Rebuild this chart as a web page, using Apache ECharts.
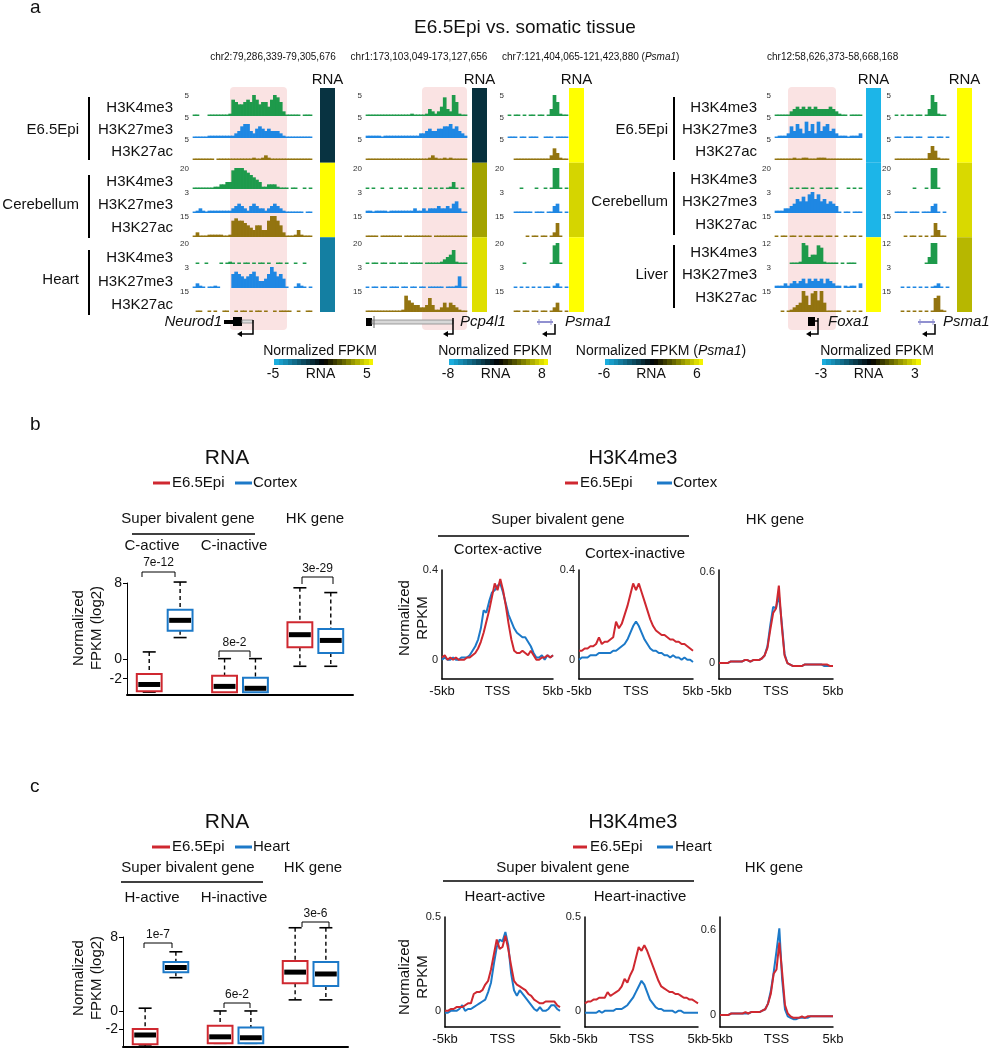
<!DOCTYPE html>
<html><head><meta charset="utf-8">
<script src="https://cdn.jsdelivr.net/npm/echarts@6/dist/echarts.min.js"></script>
<style>html,body{margin:0;padding:0;background:#fff}#c{width:990px;height:1050px}</style>
</head><body><div id="c"></div>
<script>
// ---------------- DATA ----------------
const marks = ['H3K4me3','H3K27me3','H3K27ac'];
const leftTissues = ['E6.5Epi','Cerebellum','Heart'];
const rightTissues = ['E6.5Epi','Cerebellum','Liver'];
const leftScales = ['5','5','5','20','3','15','20','3','15'];
const rightScales = ['5','5','5','20','3','15','12','3','15'];
const coordLabels = ['chr2:79,286,339-79,305,676','chr1:173,103,049-173,127,656','chr7:121,404,065-121,423,880','chr12:58,626,373-58,668,168'];
const geneNames = ['Neurod1','Pcp4l1','Psma1','Foxa1','Psma1'];

// signal tracks: '.' = no data, digits = signal level 0-9 (relative to track scale)
const trkNeurod1 = [
 "00...0000000176556769756647986200000.000",
 "0000011111111123566324543433321000000000",
 "0000000.00000000000010012100000000000000",
 "00000001122338999876543112221000.00..0.0",
 "0121011111111234321343221234321000000.00",
 "0200011111001787765435533799752000131000",
 ".0..0....0.010.0.00.0.00.0..00.0..0..0..",
 "0210.0010....6765456753346975640..0210.0",
 ".00..0.0..00..0.00.0.00.0..0.0000..0..00"];
const trkPcp4l1 = [
 "0000000000000001000013212483296100",
 "1111101111111111112234334455645321",
 "0000000000000000000001210010100000",
 "0.0..0..0..0.0..0.0..0.0.0.0130.0.",
 "1101111011111111211212223223245200",
 "0000.0000000.000000000.00000000000",
 "0.00.00.00.000.0000.00000123461000",
 "0.00.00.000.00.00.00.00000.0001500",
 "0000000000001754332236311242432100"];
const trkPsma1L = [
 "0.00.0.00.00.0396100",
 "000.00.000..000.0000",
 "..000000000000253100",
 "....0....0..0.0990.0",
 "..000000.000.00340.0",
 "......0.00.00.0260..",
 ".....0........0890..",
 "..0.0.0.0.0.00.120.0",
 "..00.00.00.00.0240.0"];
const trkFoxa1 = [
 "000002343434343333432100.0000",
 "01112536427362735634211101112",
 "00000010011000111000000000000",
 ".....0.0.00.0..0.00.0...0.0.0",
 "1112234657589685645430.00.000",
 "0.00.00.0.00.000.00.0..0.00.0",
 ".....0001983448710000.0.000..",
 "1112123234243434243211.1011.2",
 "..0.012349738959400000..0.0.0"];
const trkPsma1R = [
 "0.0.00.00.0396100.",
 "00.000.00..00.00.0",
 "000000000003641000",
 "......0...0.990...",
 "0000.000.000340.0.",
 "...0.00.0.0.06300.",
 "..........0399....",
 "..0.0.0.0.0.0120.0",
 "..0.0.0.0.0.06710."];

// RNA normalized FPKM per tissue (rows: E6.5Epi, Cerebellum, Heart/Liver)
const rnaNeurod1 = [-1.4, 5, -3.5];
const rnaPcp4l1 = [-2.1, 5.1, 7];
const rnaPsma1L = [6, 5, 6];
const rnaFoxa1 = [-3, -3, 3];
const rnaPsma1R = [6, 5.1, 4.3];
const colorbarRanges = [5, 8, 6, 3];

// Panel b/c box plots: [min, q1, median, q3, max]
const bGroups = ['C-active','C-inactive','HK gene'];
const bEpi    = [[-3.4,-3.3,-2.6,-1.5,0.8],[-3.4,-3.4,-2.8,-1.7,0.1],[-0.7,1.3,2.6,3.9,7.5]];
const bCortex = [[2.3,3.0,4.1,5.2,8.1],[-3.4,-3.4,-3.0,-1.9,0.1],[-0.7,0.7,2.0,3.2,7.0]];
const bPvals = ['7e-12','8e-2','3e-29'];
const cGroups = ['H-active','H-inactive','HK gene'];
const cEpi   = [[-3.8,-3.6,-2.6,-1.95,0.3],[-3.5,-3.5,-2.8,-1.6,0.0],[1.2,3.0,4.2,5.4,9.0]];
const cHeart = [[3.6,4.2,4.7,5.3,6.4],[-3.5,-3.5,-2.9,-1.8,0.0],[1.2,2.7,4.0,5.3,9.0]];
const cPvals = ['1e-7','6e-2','3e-6'];

// H3K4me3 profiles, -5kb..5kb in 0.25kb bins
const PROFILE_START = -5, PROFILE_STEP = 0.25;
const bActiveEpi = [0.01,0.02,0.00,0.01,0.00,0.01,0.00,0.00,0.00,0.01,0.01,0.02,0.03,0.05,0.08,0.12,0.17,0.22,0.28,0.34,0.31,0.36,0.31,0.24,0.16,0.09,0.04,0.03,0.03,0.04,0.03,0.02,0.04,0.02,0.00,0.00,0.01,0.01,0.02,0.01,0.02];
const bActiveCortex = [0.00,0.01,0.00,0.00,0.01,0.00,0.00,0.01,0.01,0.01,0.02,0.04,0.06,0.09,0.14,0.22,0.21,0.26,0.30,0.31,0.33,0.34,0.30,0.25,0.20,0.17,0.14,0.12,0.11,0.10,0.10,0.08,0.06,0.03,0.01,0.01,0.02,0.00,0.02,0.01,0.02];
const bInactiveEpi = [0.04,0.04,0.05,0.05,0.06,0.06,0.07,0.10,0.07,0.08,0.08,0.09,0.10,0.17,0.14,0.16,0.20,0.24,0.29,0.34,0.31,0.34,0.30,0.26,0.22,0.18,0.15,0.13,0.12,0.11,0.11,0.10,0.09,0.09,0.08,0.08,0.07,0.07,0.06,0.05,0.04];
const bInactiveCortex = [0.00,0.01,0.01,0.01,0.02,0.02,0.02,0.03,0.03,0.03,0.03,0.03,0.04,0.04,0.05,0.06,0.07,0.09,0.12,0.15,0.17,0.15,0.12,0.09,0.07,0.05,0.04,0.04,0.03,0.03,0.02,0.02,0.01,0.02,0.01,0.01,0.00,0.01,0.00,0.00,-0.01];
const bHkEpi = [0.00,0.00,0.00,0.00,0.01,0.01,0.01,0.01,0.01,0.02,0.02,0.01,0.02,0.02,0.02,0.03,0.05,0.10,0.22,0.33,0.36,0.51,0.25,0.05,0.00,-0.01,-0.02,-0.02,-0.02,-0.02,-0.01,-0.01,-0.01,-0.01,-0.01,-0.01,-0.01,-0.01,-0.01,-0.02,-0.02];
const bHkCortex = [0.00,0.00,0.00,0.00,0.01,0.01,0.01,0.01,0.01,0.02,0.02,0.01,0.02,0.02,0.02,0.03,0.05,0.11,0.25,0.37,0.36,0.45,0.27,0.06,0.00,-0.01,-0.02,-0.02,-0.02,-0.02,-0.01,-0.01,-0.01,-0.01,-0.01,-0.01,-0.01,-0.02,-0.02,-0.02,-0.02];
const cActiveEpi = [0.00,0.00,0.01,0.01,0.02,0.02,0.02,0.03,0.04,0.04,0.09,0.10,0.10,0.11,0.14,0.16,0.22,0.30,0.38,0.33,0.34,0.40,0.33,0.24,0.16,0.14,0.13,0.12,0.11,0.09,0.08,0.06,0.05,0.04,0.04,0.05,0.05,0.05,0.05,0.03,0.02];
const cActiveHeart = [-0.01,-0.01,0.00,0.00,0.00,0.01,0.03,0.00,0.01,0.01,0.02,0.03,0.04,0.05,0.06,0.10,0.15,0.25,0.34,0.38,0.37,0.42,0.35,0.20,0.11,0.08,0.11,0.09,0.07,0.05,0.03,0.01,0.00,0.02,0.00,0.00,0.01,0.03,0.03,0.01,0.00];
const cInactiveEpi = [0.04,0.05,0.05,0.06,0.06,0.07,0.07,0.07,0.10,0.08,0.09,0.10,0.11,0.13,0.17,0.15,0.19,0.22,0.28,0.34,0.32,0.35,0.32,0.28,0.24,0.20,0.16,0.13,0.12,0.11,0.10,0.10,0.09,0.09,0.08,0.07,0.07,0.06,0.06,0.05,0.04];
const cInactiveHeart = [-0.01,-0.01,-0.01,-0.01,-0.01,0.00,-0.01,0.00,0.00,0.00,0.00,0.01,0.01,0.01,0.02,0.03,0.05,0.07,0.10,0.13,0.16,0.14,0.10,0.06,0.04,0.02,0.01,0.01,0.00,0.00,0.00,0.00,-0.01,0.00,0.00,-0.01,-0.01,-0.01,-0.01,-0.01,-0.01];
const cHkEpi = [0.00,0.00,0.00,0.00,0.01,0.01,0.01,0.01,0.01,0.02,0.01,0.02,0.02,0.02,0.02,0.03,0.04,0.08,0.15,0.29,0.32,0.51,0.30,0.07,0.01,-0.01,-0.02,-0.02,-0.02,-0.01,-0.02,-0.01,-0.01,-0.01,-0.01,-0.01,-0.01,-0.01,-0.01,-0.01,-0.01];
const cHkHeart = [0.00,0.00,0.00,0.00,0.01,0.01,0.01,0.01,0.01,0.01,0.01,0.02,0.02,0.02,0.02,0.03,0.04,0.08,0.17,0.30,0.45,0.61,0.25,0.04,-0.01,-0.02,-0.03,-0.03,-0.02,-0.02,-0.02,-0.02,-0.01,-0.01,-0.01,-0.01,-0.01,-0.01,-0.01,-0.01,-0.01];

// ---------------- STYLE / LAYOUT ----------------
const FONT = 'Liberation Sans, Arial, Helvetica, sans-serif';
const GREEN = '#1e9a4b', TBLUE = '#1f87e3', OLIVE = '#937410';
const RED = '#cf2830', BLUE = '#1c79c8';
const trackColors = [GREEN,TBLUE,OLIVE,GREEN,TBLUE,OLIVE,GREEN,TBLUE,OLIVE];
const rowBase = [116,138,160,189,213,237,264,288,312];
const TRACK_H = 21;
const blocks = [
  {trk:trkNeurod1, rna:rnaNeurod1, range:5, x0:193, x1:312, n:40, rx:320, scales:leftScales},
  {trk:trkPcp4l1,  rna:rnaPcp4l1,  range:8, x0:366, x1:467, n:34, rx:472, scales:leftScales},
  {trk:trkPsma1L,  rna:rnaPsma1L,  range:6, x0:508, x1:568, n:20, rx:569, scales:leftScales},
  {trk:trkFoxa1,   rna:rnaFoxa1,   range:3, x0:775, x1:862, n:29, rx:866, scales:rightScales},
  {trk:trkPsma1R,  rna:rnaPsma1R,  range:6, x0:895, x1:949, n:18, rx:957, scales:rightScales}
];

function cmap(v, r) {
  const t = Math.max(-1, Math.min(1, v / r));
  const base = t < 0 ? [28,181,232] : [255,255,0];
  const a = Math.abs(t);
  return 'rgb(' + base.map(c => Math.round(c * a)).join(',') + ')';
}
function parseTrack(s, n) {
  const out = [];
  for (let i = 0; i < n; i++) { const ch = s[i]; out.push(ch === undefined || ch === '.' ? null : +ch); }
  return out;
}

const grids = [], xAxes = [], yAxes = [], series = [];
function addGrid(g, xa, ya) {
  grids.push(g); const i = grids.length - 1;
  xAxes.push(Object.assign({gridIndex:i}, xa));
  yAxes.push(Object.assign({gridIndex:i}, ya));
  return i;
}

// tracks
blocks.forEach(b => {
  const cats = Array.from({length:b.n}, (_, i) => i);
  const bw = (b.x1 - b.x0) / b.n + 0.7;
  b.trk.forEach((s, r) => {
    const gi = addGrid({left:b.x0, top:rowBase[r]-TRACK_H, width:b.x1-b.x0, height:TRACK_H},
      {type:'category', data:cats, show:false},
      {type:'value', min:0, max:9, show:false});
    series.push({type:'bar', xAxisIndex:gi, yAxisIndex:gi, data:parseTrack(s, b.n),
      barWidth:bw, barMinHeight:1.5, clip:false, silent:true,
      itemStyle:{color:trackColors[r]}});
  });
  // RNA column
  const gr = addGrid({left:b.rx, top:88, width:15, height:224},
    {type:'value', min:0, max:1, show:false},
    {type:'category', data:[0,1,2], inverse:true, show:false});
  series.push({type:'bar', xAxisIndex:gr, yAxisIndex:gr, silent:true, barWidth:'100%', barCategoryGap:'0%',
    data:b.rna.map(v => ({value:1, itemStyle:{color:cmap(v, b.range)}}))});
});

// box plots
function boxSeries(gi, stats, sign, color) {
  return {type:'custom', xAxisIndex:gi, yAxisIndex:gi, silent:true, clip:false,
    data: stats.map((s, i) => [i].concat(s)),
    encode:{x:0, y:[1,2,3,4,5]},
    renderItem:(params, api) => {
      const cat = api.value(0);
      const band = api.size([1, 0])[0];
      const x = api.coord([cat, 0])[0] + sign * band * 0.205;
      const w = band * 0.33, cap = 13;
      const y = [1,2,3,4,5].map(k => api.coord([cat, api.value(k)])[1]);
      const dash = {stroke:'#000', lineWidth:1.4, lineDash:[4,3]};
      const solid = {stroke:'#000', lineWidth:1.6};
      return {type:'group', children:[
        {type:'line', shape:{x1:x, y1:y[4], x2:x, y2:y[3]}, style:dash},
        {type:'line', shape:{x1:x, y1:y[1], x2:x, y2:y[0]}, style:dash},
        {type:'line', shape:{x1:x-cap/2, y1:y[4], x2:x+cap/2, y2:y[4]}, style:solid},
        {type:'line', shape:{x1:x-cap/2, y1:y[0], x2:x+cap/2, y2:y[0]}, style:solid},
        {type:'rect', shape:{x:x-w/2, y:y[3], width:w, height:y[1]-y[3]}, style:{fill:'#fff', stroke:color, lineWidth:2}},
        {type:'rect', shape:{x:x-w/2+1.5, y:y[2]-2.5, width:w-3, height:5}, style:{fill:'#000'}}
      ]};
    }};
}
function boxGrid(rect, groups, ymin) {
  return addGrid(rect,
    {type:'category', data:groups, axisLine:{onZero:false, lineStyle:{color:'#000', width:2}}, axisTick:{show:false}, axisLabel:{show:false}},
    {type:'value', min:ymin, max:8, splitLine:{show:false},
     axisLine:{show:true, onZero:false, lineStyle:{color:'#000', width:1}},
     axisTick:{show:true, length:4, customValues:[8,0,-2], lineStyle:{color:'#000'}},
     axisLabel:{customValues:[8,0,-2], fontSize:14, color:'#111', fontFamily:FONT, margin:5}});
}
const gb = boxGrid({left:127, top:583, width:226, height:112}, bGroups, -3.7);
series.push(boxSeries(gb, bEpi, -1, RED), boxSeries(gb, bCortex, 1, BLUE));
const gc = boxGrid({left:123, top:937, width:225, height:110}, cGroups, -3.9);
series.push(boxSeries(gc, cEpi, -1, RED), boxSeries(gc, cHeart, 1, BLUE));

// profiles
function profGrid(rect, ymin, ymax, labs, epi, other) {
  const gi = addGrid(rect,
    {type:'value', min:-5, max:5, interval:5, splitLine:{show:false}, axisTick:{show:false},
     axisLine:{onZero:false, lineStyle:{color:'#000', width:1.5}},
     axisLabel:{fontSize:13, color:'#111', fontFamily:FONT, margin:6, formatter:v => v === 0 ? 'TSS' : (v < 0 ? '-5kb' : '5kb')}},
    {type:'value', min:ymin, max:ymax, splitLine:{show:false},
     axisLine:{show:true, onZero:false, lineStyle:{color:'#000', width:1.5}},
     axisTick:{show:false},
     axisLabel:{customValues:labs, fontSize:11, color:'#222', fontFamily:FONT, margin:4, formatter:v => String(+(+v).toFixed(2))}});
  const toPts = arr => arr.map((v, i) => [PROFILE_START + i * PROFILE_STEP, v]);
  series.push({type:'line', xAxisIndex:gi, yAxisIndex:gi, data:toPts(other), showSymbol:false, silent:true, lineStyle:{color:BLUE, width:2}, itemStyle:{color:BLUE}});
  series.push({type:'line', xAxisIndex:gi, yAxisIndex:gi, data:toPts(epi), showSymbol:false, silent:true, lineStyle:{color:RED, width:2}, itemStyle:{color:RED}});
}
profGrid({left:442, top:570, width:111, height:109}, -0.086, 0.4, [0,0.4], bActiveEpi, bActiveCortex);
profGrid({left:579, top:570, width:114, height:109}, -0.086, 0.4, [0,0.4], bInactiveEpi, bInactiveCortex);
profGrid({left:719, top:570, width:114, height:109}, -0.105, 0.613, [0,0.6], bHkEpi, bHkCortex);
profGrid({left:445, top:917, width:115, height:110}, -0.086, 0.5, [0,0.5], cActiveEpi, cActiveHeart);
profGrid({left:585, top:917, width:113, height:110}, -0.086, 0.5, [0,0.5], cInactiveEpi, cInactiveHeart);
profGrid({left:720, top:917, width:113, height:110}, -0.085, 0.69, [0,0.6], cHkEpi, cHkHeart);

// ---------------- GRAPHIC ANNOTATIONS ----------------
const G = [];
function T(x, y, text, o) {
  o = o || {};
  const style = {text, fontFamily:FONT, fontSize:o.fs || 15, fill:o.fill || '#111', align:o.align || 'center',
    verticalAlign:'middle', fontStyle:o.italic ? 'italic' : 'normal', lineHeight:o.lh || undefined};
  if (o.rich) style.rich = o.rich;
  G.push({type:'text', x, y, z:10, rotation:o.rot || 0, style});
}
function L(points, o) {
  o = o || {};
  G.push({type:'polyline', z:10, shape:{points}, style:{stroke:o.stroke || '#000', lineWidth:o.w || 1, fill:null, lineDash:o.dash || null}});
}
function R(x, y, w, h, fill, o) {
  o = o || {};
  G.push({type:'rect', z:o.z != null ? o.z : 10, shape:{x, y, width:w, height:h, r:o.r || 0}, style:{fill, stroke:o.stroke || null, lineWidth:o.lw || 0}});
}
function P(points, fill) { G.push({type:'polygon', z:10, shape:{points}, style:{fill}}); }
function tssArrow(xv, yTop, xEnd) {
  L([[xv, yTop], [xv, 334], [xEnd + 3, 334]], {w:1.5});
  P([[xEnd, 334], [xEnd + 5, 331], [xEnd + 5, 337]], '#000');
}

// panel a
T(30, 8, 'a', {fs:19, align:'left'});
T(525, 28, 'E6.5Epi vs. somatic tissue', {fs:19});
T(273, 57, coordLabels[0], {fs:10});
T(419, 57, coordLabels[1], {fs:10});
T(502, 57, coordLabels[2] + ' ({i|Psma1})', {fs:10, align:'left', rich:{i:{fontStyle:'italic', fontSize:10, fontFamily:FONT, fill:'#111'}}});
T(767, 57, coordLabels[3], {fs:10, align:'left'});
// pink highlighted regions
R(230, 87, 57, 243, '#fae3e3', {r:4, z:0});
R(422, 87, 45, 243, '#fae3e3', {r:4, z:0});
R(788, 87, 48, 243, '#fae3e3', {r:4, z:0});
blocks.forEach(b => {
  T(b.rx + 7.5, 80, 'RNA', {fs:15});
  b.scales.forEach((s, r) => T(b.x0 - 4, rowBase[r] - TRACK_H + 1, s, {fs:8, align:'right', fill:'#333'}));
});
const leftRowY = [108,130,152,182,205,228,258,282,305];
const rightRowY = [108,130,152,180,202,225,253,275,298];
leftRowY.forEach((y, i) => T(173, y, marks[i % 3], {align:'right'}));
rightRowY.forEach((y, i) => T(757, y, marks[i % 3], {align:'right'}));
const leftTisY = [130,205,280], leftBars = [[97,160],[175,238],[250,315]];
const rightTisY = [130,202,275], rightBars = [[97,160],[172,235],[245,308]];
leftTissues.forEach((t, i) => { T(79, leftTisY[i], t, {align:'right'}); L([[89, leftBars[i][0]], [89, leftBars[i][1]]], {w:2}); });
rightTissues.forEach((t, i) => { T(668, rightTisY[i], t, {align:'right'}); L([[674, rightBars[i][0]], [674, rightBars[i][1]]], {w:2}); });
// gene models
T(222, 322, geneNames[0], {italic:true, align:'right'});
R(224, 320, 10, 4, '#000'); R(233, 317, 9, 9, '#000');
R(242, 320, 11, 3, '#ddd', {stroke:'#888', lw:0.8});
tssArrow(253, 320, 237);
R(366, 318, 6, 8, '#000');
R(372, 320, 81, 4, '#d8d8d8', {stroke:'#888', lw:0.8});
L([[374, 316], [374, 328]], {w:1, stroke:'#666'});
tssArrow(453, 318, 443);
T(460, 322, geneNames[1], {italic:true, align:'left'});
L([[537, 322], [553, 322]], {w:2, stroke:'#9090d0'}); L([[539, 319], [539, 325]], {w:1, stroke:'#9090d0'}); L([[551, 319], [551, 325]], {w:1, stroke:'#9090d0'});
tssArrow(555, 324, 542);
T(565, 322, geneNames[2], {italic:true, align:'left'});
R(808, 317, 7, 9, '#000'); L([[815, 321], [818, 321]], {w:1.5});
tssArrow(818, 318, 806);
T(828, 322, geneNames[3], {italic:true, align:'left'});
L([[918, 322], [935, 322]], {w:2, stroke:'#9090d0'}); L([[920, 319], [920, 325]], {w:1, stroke:'#9090d0'}); L([[933, 319], [933, 325]], {w:1, stroke:'#9090d0'});
tssArrow(935, 324, 922);
T(943, 322, geneNames[4], {italic:true, align:'left'});
// colorbars
function stepGradient(r) {
  const n = 22, stops = [];
  for (let k = 0; k < n; k++) {
    const c = cmap(-r + 2 * r * (k + 0.5) / n, r);
    stops.push({offset:k / n, color:c}, {offset:(k + 1) / n, color:c});
  }
  return new echarts.graphic.LinearGradient(0, 0, 1, 0, stops);
}
const cbars = [{x:274, w:99, tc:320}, {x:449, w:99, tc:495}, {x:605, w:98, tc:661}, {x:822, w:99, tc:877}];
cbars.forEach((cb, i) => {
  const r = colorbarRanges[i];
  R(cb.x, 359, cb.w, 6, stepGradient(r));
  if (i === 2) T(cb.tc, 351, 'Normalized FPKM ({i|Psma1})', {fs:14, rich:{i:{fontStyle:'italic', fontSize:14, fontFamily:FONT, fill:'#111'}}});
  else T(cb.tc, 351, 'Normalized FPKM', {fs:14});
  T(cb.x - 1, 374, '-' + r, {fs:14});
  T(cb.x + cb.w / 2 - 3, 374, 'RNA', {fs:14});
  T(cb.x + cb.w - 6, 374, String(r), {fs:14});
});

// panel b / c text
function bracket(x1, x2, y, y2, label, ly) {
  L([[x1, y2], [x1, y], [x2, y], [x2, y2]], {w:1});
  T((x1 + x2) / 2, ly, label, {fs:12});
}
function legendPair(xr1, xr2, xt1, xb1, xb2, xt2, y, name2) {
  L([[xr1, y], [xr2, y]], {stroke:RED, w:3}); T(xt1, y, 'E6.5Epi', {align:'left'});
  L([[xb1, y], [xb2, y]], {stroke:BLUE, w:3}); T(xt2, y, name2, {align:'left'});
}
// b
T(30, 425, 'b', {fs:19, align:'left'});
T(227, 458, 'RNA', {fs:21});
legendPair(153, 170, 172, 235, 252, 253, 483, 'Cortex');
T(188, 519, 'Super bivalent gene'); L([[132, 534], [255, 534]], {w:1.5}); T(315, 519, 'HK gene');
T(152, 546, bGroups[0]); T(234, 546, bGroups[1]);
T(88, 628, 'Normalized\nFPKM (log2)', {rot:Math.PI / 2, lh:18});
bracket(142, 175, 572, 577, bPvals[0], 563);
bracket(219, 250, 651, 657, bPvals[1], 643);
bracket(302, 333, 577, 584, bPvals[2], 569);
T(633, 458, 'H3K4me3', {fs:20});
legendPair(565, 578, 580, 657, 672, 673, 483, 'Cortex');
T(558, 520, 'Super bivalent gene'); L([[438, 536], [689, 536]], {w:1.5}); T(775, 520, 'HK gene');
T(498, 550, 'Cortex-active'); T(635, 554, 'Cortex-inactive');
T(414, 618, 'Normalized\nRPKM', {rot:Math.PI / 2, lh:18});
// c
T(30, 787, 'c', {fs:19, align:'left'});
T(227, 822, 'RNA', {fs:21});
legendPair(152, 170, 172, 235, 252, 253, 847, 'Heart');
T(188, 868, 'Super bivalent gene'); L([[121, 882], [263, 882]], {w:1.5}); T(313, 868, 'HK gene');
T(152, 898, cGroups[0]); T(234, 898, cGroups[1]);
T(88, 978, 'Normalized\nFPKM (log2)', {rot:Math.PI / 2, lh:18});
bracket(144, 172, 943, 948, cPvals[0], 935);
bracket(224, 250, 1003, 1008, cPvals[1], 995);
bracket(302, 329, 922, 927, cPvals[2], 914);
T(633, 822, 'H3K4me3', {fs:20});
legendPair(573, 587, 590, 657, 673, 675, 847, 'Heart');
T(563, 868, 'Super bivalent gene'); L([[443, 881], [694, 881]], {w:1.5}); T(774, 868, 'HK gene');
T(505, 897, 'Heart-active'); T(640, 897, 'Heart-inactive');
T(414, 977, 'Normalized\nRPKM', {rot:Math.PI / 2, lh:18});

const chart = echarts.init(document.getElementById('c'), null, {renderer:'canvas'});
chart.setOption({
  animation:false,
  backgroundColor:'#fff',
  textStyle:{fontFamily:FONT},
  grid:grids, xAxis:xAxes, yAxis:yAxes, series,
  graphic:{elements:G}
});
</script>
</body></html>
